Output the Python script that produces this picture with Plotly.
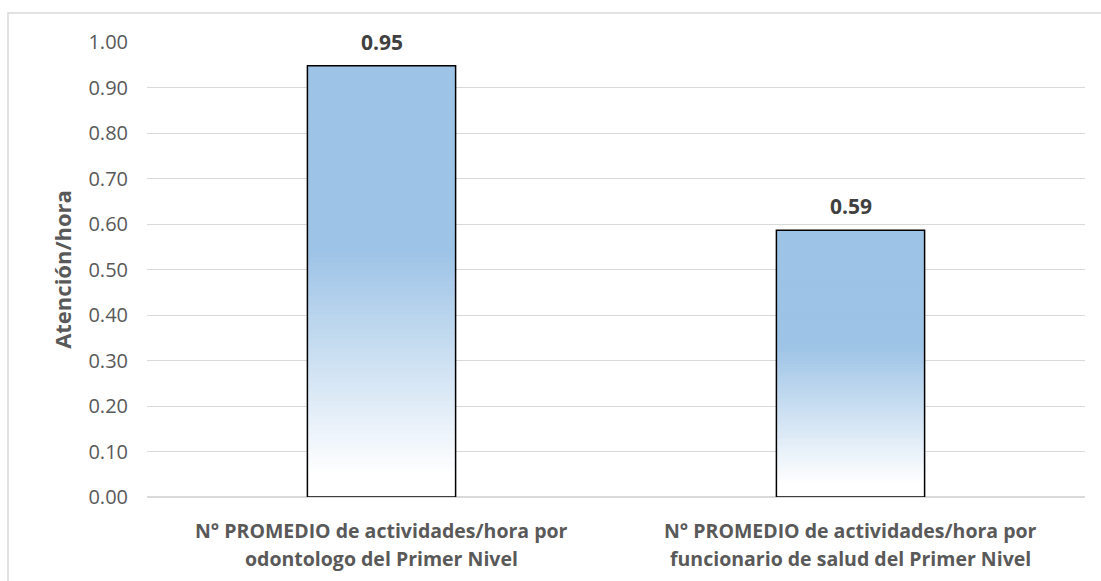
import plotly.graph_objects as go

# Data
categories = [
    "N° PROMEDIO de actividades/hora por\nodontologo del Primer Nivel",
    "N° PROMEDIO de actividades/hora por\nfuncionario de salud del Primer Nivel",
]
values = [0.948, 0.586]
y_ticks = [0.0, 0.1, 0.2, 0.3, 0.4, 0.5, 0.6, 0.7, 0.8, 0.9, 1.0]

FONT = "Open Sans"
BLUE = (157, 195, 230)
WHITE = (255, 255, 255)
N_STEPS = 90
FADE_START, FADE_END = 0.05, 0.57


def shade(frac):
    """Vertical gradient: white at the bottom, light blue above FADE_END."""
    if frac <= FADE_START:
        t = 0.0
    elif frac >= FADE_END:
        t = 1.0
    else:
        t = (frac - FADE_START) / (FADE_END - FADE_START)
    r, g, b = (round(w + (c - w) * t) for w, c in zip(WHITE, BLUE))
    return f"rgb({r},{g},{b})"


fig = go.Figure()

# Gradient fill: overlapping bars from tallest (top colour) to shortest
for k in range(N_STEPS):
    top = (N_STEPS - k) / N_STEPS
    frac = (N_STEPS - k - 0.5) / N_STEPS
    fig.add_trace(go.Bar(
        x=categories,
        y=[v * top for v in values],
        marker=dict(color=shade(frac), line=dict(width=0)),
        hoverinfo="skip",
        showlegend=False,
    ))

# Outline of each bar
fig.add_trace(go.Bar(
    x=categories,
    y=values,
    marker=dict(color="rgba(0,0,0,0)", line=dict(color="#000000", width=1.5)),
    showlegend=False,
))

# Value labels
for c, v in zip(categories, values):
    fig.add_annotation(
        x=c, y=v, text=f"<b>{v:.2f}</b>", showarrow=False,
        yshift=24, font=dict(family=FONT, size=21, color="#404040"),
    )

# Category labels, one annotation per line for wider line spacing
for c in categories:
    for i, line in enumerate(c.split("\n")):
        fig.add_annotation(
            x=c, xref="x", y=0, yref="paper", yanchor="middle",
            yshift=-33 - 28 * i, text=f"<b>{line}</b>", showarrow=False,
            font=dict(family=FONT, size=19.5, color="#595959"),
        )

# Light grey chart frame
fig.add_shape(
    type="rect", xref="paper", yref="paper",
    x0=-0.1482, x1=1.2, y0=-0.4, y1=1.0637,
    line=dict(color="#D9D9D9", width=1.5), fillcolor="rgba(0,0,0,0)",
    layer="below",
)

fig.update_layout(
    width=1101, height=581,
    margin=dict(l=147, r=16, t=42, b=84),
    barmode="overlay",
    bargap=0.684,
    plot_bgcolor="white",
    paper_bgcolor="white",
    font=dict(family=FONT, color="#595959"),
    xaxis=dict(
        showgrid=False, showline=False, zeroline=False, ticks="",
        showticklabels=False,
    ),
    yaxis=dict(
        range=[0, 1.0],
        tickvals=y_ticks,
        tickformat=".2f",
        showgrid=True, gridcolor="#D9D9D9", gridwidth=1.3,
        zeroline=True, zerolinecolor="#D9D9D9", zerolinewidth=1.5,
        showline=False, ticks="",
        tickfont=dict(family=FONT, size=20, color="#595959"),
        ticklabelstandoff=18,
        title=dict(text="<b>Atención/hora</b>", standoff=10,
                   font=dict(family=FONT, size=22, color="#595959")),
    ),
)

fig.write_html("out.html")
